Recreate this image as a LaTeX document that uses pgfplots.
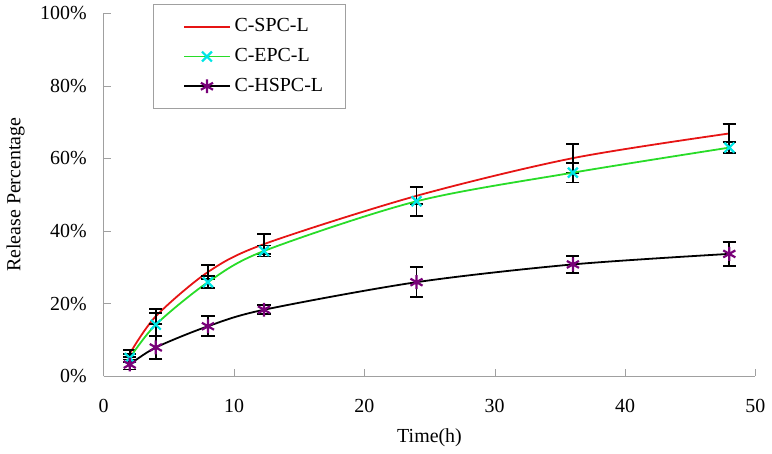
\documentclass[border=0pt]{standalone}
\usepackage{fontspec}
\setmainfont{Liberation Serif}
\usepackage{pgfplots}
\pgfplotsset{compat=1.18}
\definecolor{spcred}{RGB}{230,20,20}
\definecolor{epcgreen}{RGB}{40,220,40}
\definecolor{epccyan}{RGB}{0,230,230}
\definecolor{hspcpurple}{RGB}{120,0,120}
\definecolor{axgray}{RGB}{160,160,160}
\begin{document}
\begin{tikzpicture}
\begin{axis}[
  scale only axis,
  width=327pt, height=182pt,
  xmin=0, xmax=50, ymin=0, ymax=100,
  xtick={0,10,...,50}, ytick={0,20,...,100},
  yticklabel={\pgfmathprintnumber{\tick}\%},
  /pgf/number format/assume math mode=true,
  axis x line*=bottom, axis y line*=left,
  axis line style={axgray,-},
  tick style={axgray},
  tick align=inside, major tick length=3.5pt,
  xticklabel style={yshift=-8pt},
  yticklabel style={xshift=-5pt},
  xlabel={Time(h)}, ylabel={Release Percentage},
  xlabel style={at={(axis description cs:0.5,-0.17)},anchor=center},
  ylabel style={at={(axis description cs:-0.135,0.5)},anchor=center},
  legend style={at={(axis description cs:0.075,1.025)},anchor=north west,
                draw=axgray, inner xsep=9pt, inner ysep=5pt, row sep=2.8pt,
                cells={anchor=west}},
  legend image code/.code={\path (0cm,0cm);
      \draw[mark repeat=2,mark phase=2,#1]
      plot coordinates {(0.22cm,0cm) (0.62cm,0cm) (1.02cm,0cm)};},
  error bars/error bar style={black,line width=0.9pt},
  error bars/error mark options={rotate=90,mark size=3.3pt,black,line width=0.9pt},
]
\addplot[spcred, line width=0.9pt, smooth, tension=0.5, no markers,
  error bars/.cd, y dir=both, y explicit]
  coordinates {(2,6.2)+-(0,0.9) (4,16.5)+-(0,2.1) (8,28.7)+-(0,2.0)
    (12.3,36.4)+-(0,2.8) (24,49.7)+-(0,2.3) (36,60.1)+-(0,4.0) (48,66.9)+-(0,2.5)};
\addlegendentry{C-SPC-L}
\addplot[epcgreen, line width=0.9pt, smooth, tension=0.5, mark=x,
  mark size=3.5pt, mark options={epccyan,line width=1.1pt},
  error bars/.cd, y dir=both, y explicit]
  coordinates {(2,5.0)+-(0,1.0) (4,14.2)+-(0,3.2) (8,25.9)+-(0,1.6)
    (12.3,34.5)+-(0,1.5) (24,48.2)+-(0,4.0) (36,56.1)+-(0,2.7) (48,63.0)+-(0,1.5)};
\addlegendentry{C-EPC-L}
\addplot[black, line width=0.9pt, smooth, tension=0.5, mark=asterisk,
  mark size=3.5pt, mark options={hspcpurple,line width=1.1pt},
  error bars/.cd, y dir=both, y explicit]
  coordinates {(2,3.2)+-(0,1.4) (4,7.9)+-(0,3.1) (8,13.75)+-(0,2.75)
    (12.3,18.3)+-(0,1.2) (24,25.9)+-(0,4.1) (36,30.8)+-(0,2.3) (48,33.7)+-(0,3.3)};
\addlegendentry{C-HSPC-L}
\end{axis}
\end{tikzpicture}
\end{document}
